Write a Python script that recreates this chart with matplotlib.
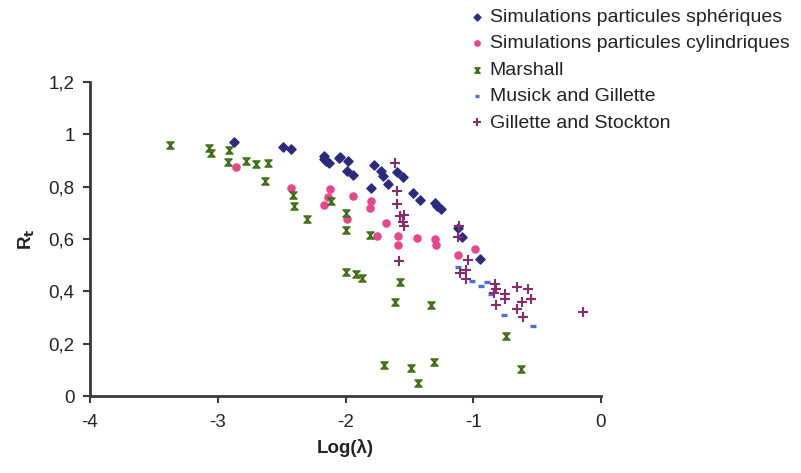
import numpy as np
import matplotlib.pyplot as plt
from matplotlib.path import Path
from matplotlib.ticker import FuncFormatter

plt.rcParams['font.family'] = ['Liberation Sans', 'DejaVu Sans']

# Simulations particules spheriques
sph_x = [-2.87, -2.49, -2.43, -2.17, -2.17, -2.15, -2.13, -2.05, -2.04, -1.98, -1.99, -1.94,
         -1.78, -1.72, -1.71, -1.80, -1.67, -1.60, -1.55, -1.47, -1.42, -1.30, -1.28, -1.25,
         -1.12, -1.09, -0.95]
sph_y = [0.971, 0.953, 0.943, 0.917, 0.904, 0.897, 0.891, 0.909, 0.912, 0.897, 0.861, 0.843,
         0.882, 0.861, 0.841, 0.796, 0.810, 0.856, 0.838, 0.775, 0.749, 0.739, 0.726, 0.713,
         0.641, 0.609, 0.522]

# Simulations particules cylindriques
cyl_x = [-2.86, -2.43, -2.12, -2.14, -2.17, -1.94, -1.80, -1.81, -1.99, -1.68, -1.75, -1.59,
         -1.59, -1.44, -1.30, -1.29, -1.12, -0.99]
cyl_y = [0.875, 0.794, 0.790, 0.762, 0.731, 0.763, 0.745, 0.717, 0.675, 0.662, 0.610, 0.610,
         0.576, 0.603, 0.599, 0.576, 0.540, 0.561]

# Marshall
mar_x = [-3.37, -3.07, -3.05, -2.91, -2.92, -2.78, -2.70, -2.61, -2.63, -2.41, -2.40, -2.30,
         -2.11, -2.00, -2.00, -1.81, -2.00, -1.92, -1.87, -1.57, -1.61, -1.33, -0.74, -1.70,
         -1.49, -1.31, -1.43, -0.63]
mar_y = [0.959, 0.946, 0.927, 0.940, 0.894, 0.898, 0.885, 0.889, 0.823, 0.767, 0.725, 0.677,
         0.745, 0.700, 0.634, 0.614, 0.473, 0.466, 0.451, 0.437, 0.358, 0.349, 0.230, 0.120,
         0.107, 0.131, 0.048, 0.103]

# Musick and Gillette
mus_x = [-1.12, -1.01, -0.94, -0.89, -0.86, -0.76, -0.53]
mus_y = [0.494, 0.439, 0.421, 0.437, 0.389, 0.311, 0.267]

# Gillette and Stockton
gil_x = [-1.61, -1.60, -1.60, -1.57, -1.54, -1.55, -1.54, -1.58, -1.11, -1.12, -1.04, -1.10,
         -1.06, -1.06, -0.83, -0.82, -0.84, -0.75, -0.75, -0.82, -0.66, -0.57, -0.55, -0.62,
         -0.66, -0.61, -0.14]
gil_y = [0.892, 0.785, 0.734, 0.686, 0.690, 0.666, 0.650, 0.516, 0.651, 0.606, 0.520, 0.469,
         0.481, 0.447, 0.427, 0.408, 0.392, 0.389, 0.369, 0.348, 0.415, 0.410, 0.371, 0.358,
         0.334, 0.301, 0.321]

# bow-tie "x" marker like the Excel one
bowtie = Path([(-1, 1), (1, 1), (-1, -1), (1, -1), (-1, 1)],
              [Path.MOVETO, Path.LINETO, Path.LINETO, Path.LINETO, Path.CLOSEPOLY])

fig = plt.figure(figsize=(8.01, 4.73), dpi=100)
ax = fig.add_axes([90/801, 77/473, 511/801, 314/473])

ax.scatter(sph_x, sph_y, marker='D', s=22, color='#2b2b7e', label='Simulations particules sphériques', zorder=3)
ax.scatter(cyl_x, cyl_y, marker='o', s=26, color='#e8458c', label='Simulations particules cylindriques', zorder=3)
ax.scatter(mar_x, mar_y, marker=bowtie, s=26, color='#4f8a1c', edgecolors='#3a6b12', linewidths=1,
           label='Marshall', zorder=3)
ax.scatter(mus_x, mus_y, marker='_', s=22, color='#4a6fd6', linewidths=2.4, label='Musick and Gillette', zorder=3)
ax.scatter(gil_x, gil_y, marker='+', s=60, color='#8a2a6e', linewidths=1.5, label='Gillette and Stockton', zorder=3)

ax.set_xlim(-4, 0)
ax.set_ylim(0, 1.2)
ax.set_xticks([-4, -3, -2, -1, 0])
ax.set_yticks([0, 0.2, 0.4, 0.6, 0.8, 1.0, 1.2])
ax.yaxis.set_major_formatter(FuncFormatter(lambda v, p: f"{v:g}".replace('.', ',')))
ax.xaxis.set_major_formatter(FuncFormatter(lambda v, p: f"{v:g}"))

for s in ['top', 'right']:
    ax.spines[s].set_visible(False)
for s in ['left', 'bottom']:
    ax.spines[s].set_color('#3a3a3a')
    ax.spines[s].set_linewidth(2)
ax.tick_params(direction='out', length=5, width=1.5, color='#3a3a3a', labelsize=13.5, labelcolor='#222222')
ax.tick_params(axis='x', pad=8)
ax.tick_params(axis='y', pad=6)

ax.set_xlabel('Log(λ)', fontsize=13.5, fontweight='bold', color='#222222', labelpad=6)
ax.set_ylabel('R$_\\mathbf{t}$', fontsize=13.5, fontweight='bold', color='#222222', labelpad=8)

fig.legend(loc='upper left', bbox_to_anchor=(450/801, 1 + 9/473), frameon=False, fontsize=14,
           handletextpad=0.15, labelspacing=0.45, markerscale=0.75, handlelength=1.0,
           labelcolor='#222222')

fig.savefig('out.png', dpi=100)
